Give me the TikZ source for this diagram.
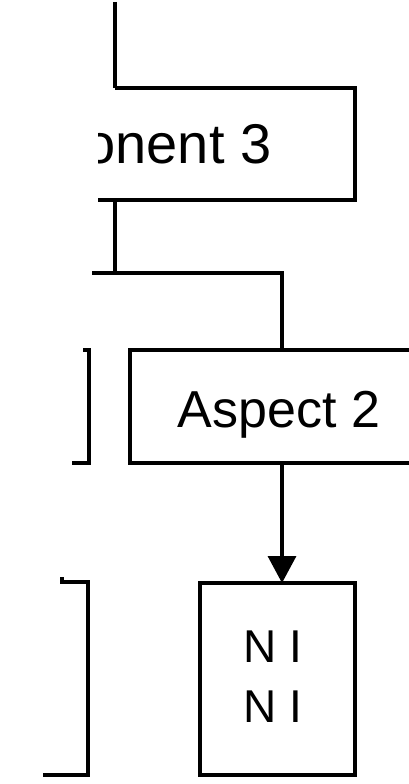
\documentclass[tikz,border=0pt]{standalone}
\usepackage{fontspec}
\setmainfont{Liberation Sans}
\usetikzlibrary{arrows.meta}
\begin{document}
\begin{tikzpicture}[x=1pt,y=-1pt,
  line width=3.2pt,
  boxstyle/.style={draw,line width=3.2pt,inner sep=0pt,outer sep=0pt},
  labeltext/.style={font=\fontsize{50}{60}\selectfont,inner sep=0pt},
  link/.style={line width=3.4pt},
  flowarrow/.style={line width=3.4pt,-{Triangle[length=27pt,width=28pt]}}]
\useasboundingbox (0,0) rectangle (409,784);
\clip (0,0) rectangle (409,784);

% upper box, only its right part is shown
\begin{scope}
  \clip (115,0) -- (409,0) -- (409,784) -- (98,784) -- (98,118) -- (115,118) -- cycle;
  \node[boxstyle,minimum width=470pt,minimum height=112pt] (c3) at (120,144) {};
  \node[labeltext,font=\fontsize{56}{60}\selectfont,anchor=base east] at (273,163) {Component 3};
\end{scope}

\node[boxstyle,minimum width=300pt,minimum height=113pt] (a2) at (280,406.5) {};
\node[labeltext,font=\fontsize{52}{60}\selectfont,anchor=base] at (279,427) {Aspect 2};

\node[boxstyle,minimum width=155pt,minimum height=192pt] (nb) at (277.5,679) {};
\node[labeltext,align=center,font=\fontsize{46}{60}\selectfont,anchor=base] at (273,722) {N I\\N I};

% connectors
\coordinate (top) at (115,2);
\coordinate (split) at (115,273);
\coordinate (stub) at (92,273);
\coordinate (turn) at (282,273);

\draw[link] (top) -- (top |- c3.north);
\draw[link] (split |- c3.south) -- (split);
\draw[link] (stub) -- (turn) -- (turn |- a2.north);
\draw[flowarrow] (turn |- a2.south) -- (turn |- nb.north);

% side brackets
\draw (83,350) -- (89,350) -- (89,463) -- (72,463);
\draw (62,577) -- (62,582) -- (88,582) -- (88,775) -- (43,775);
\end{tikzpicture}
\end{document}
